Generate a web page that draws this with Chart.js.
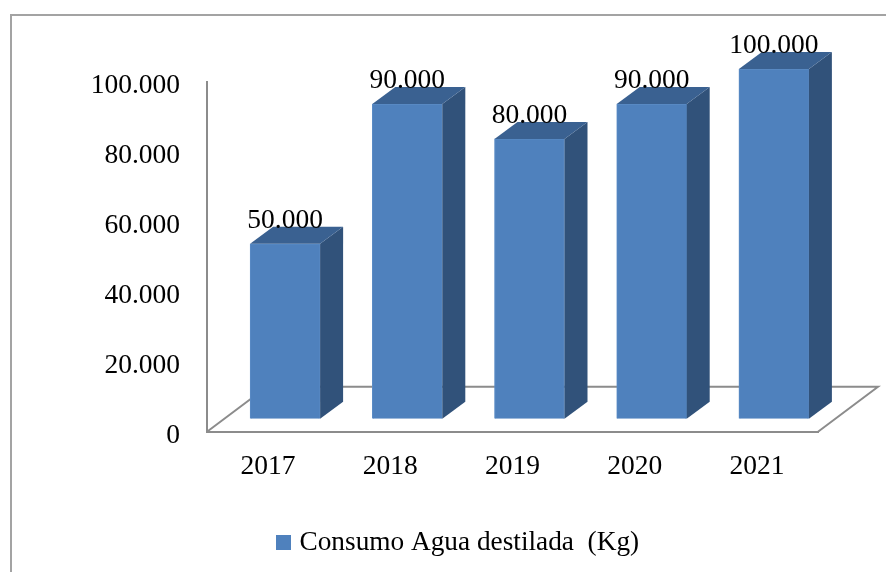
<!DOCTYPE html>
<html>
<head>
<meta charset="utf-8">
<style>
  html, body { margin: 0; padding: 0; background: #fff; }
  #wrap { width: 886px; height: 572px; }
</style>
<script src="https://cdn.jsdelivr.net/npm/chart.js@4"></script>
</head>
<body>
<div id="wrap"><canvas id="myChart" width="886" height="572"></canvas></div>
<script>
const anni = ['2017', '2018', '2019', '2020', '2021'];
const consumo = [50000, 90000, 80000, 90000, 100000];
const tickValori = [0, 20000, 40000, 60000, 80000, 100000];
const nomeSerie = 'Consumo Agua destilada  (Kg)';

const FONT = '"Liberation Serif", serif';
const fmt = v => v.toLocaleString('de-DE');

// quadratino della legenda
const quadrato = document.createElement('canvas');
quadrato.width = 15;
quadrato.height = 15;
const qc = quadrato.getContext('2d');
qc.fillStyle = '#4f81bd';
qc.fillRect(0, 0, 15, 15);

// finto 3D: il pavimento e i lati delle barre
const finto3d = {
    id: 'finto3d',
    beforeDraw(chart) {
        const c = chart.ctx;
        c.save();
        c.strokeStyle = '#a3a3a3';
        c.lineWidth = 2;
        c.beginPath();
        c.moveTo(886, 15);
        c.lineTo(11, 15);
        c.lineTo(11, 572);
        c.stroke();
        c.restore();
    },
    beforeDatasetsDraw(chart) {
        const c = chart.ctx;
        const a = chart.chartArea;
        c.save();
        c.strokeStyle = '#8c8c8c';
        c.lineWidth = 2;
        c.beginPath();
        c.moveTo(a.left, a.bottom);
        c.lineTo(a.left + 60, a.bottom - 45);
        c.lineTo(a.right + 60, a.bottom - 45);
        c.lineTo(a.right, a.bottom);
        c.stroke();
        c.restore();
        c.save();
        c.translate(17, -13);
    },
    afterDatasetsDraw(chart) {
        const c = chart.ctx;
        const dx = 23, dy = -17;
        chart.getDatasetMeta(0).data.forEach(bar => {
            const l = bar.x - bar.width / 2, r = bar.x + bar.width / 2;
            c.fillStyle = '#31527a';
            c.beginPath();
            c.moveTo(r, bar.y);
            c.lineTo(r + dx, bar.y + dy);
            c.lineTo(r + dx, bar.base + dy);
            c.lineTo(r, bar.base);
            c.closePath();
            c.fill();
            c.fillStyle = '#3a6191';
            c.beginPath();
            c.moveTo(l, bar.y);
            c.lineTo(l + dx, bar.y + dy);
            c.lineTo(r + dx, bar.y + dy);
            c.lineTo(r, bar.y);
            c.closePath();
            c.fill();
        });
        c.fillStyle = '#000';
        c.font = '27.5px ' + FONT;
        c.textAlign = 'center';
        c.textBaseline = 'middle';
        chart.getDatasetMeta(0).data.forEach((bar, i) => {
            c.fillText(fmt(consumo[i]), bar.x, bar.y - 23);
        });
        c.restore();
    }
};

new Chart(document.getElementById('myChart'), {
    type: 'bar',
    data: {
        labels: anni,
        datasets: [{
            label: nomeSerie,
            data: consumo,
            backgroundColor: '#4f81bd',
            borderColor: '#5b8cc6',
            borderWidth: 1,
            barThickness: 70
        }]
    },
    plugins: [finto3d],
    options: {
        responsive: false,
        animation: false,
        layout: { padding: { left: 60, top: 82, bottom: 6, right: 26 } },
        plugins: {
            legend: {
                position: 'bottom',
                labels: {
                    font: { family: FONT, size: 27.3 },
                    color: '#000',
                    usePointStyle: true,
                    pointStyle: quadrato,
                    pointStyleWidth: 5,
                    boxHeight: 15,
                    padding: 6
                }
            },
            tooltip: { enabled: false }
        },
        scales: {
            x: {
                grid: { display: false },
                border: { color: '#8c8c8c', width: 2 },
                ticks: { font: { family: FONT, size: 27.5 }, color: '#000', padding: 11 },
                afterFit(s) { s.height = 91; }
            },
            y: {
                min: 0,
                max: 100000,
                afterBuildTicks(s) { s.ticks = tickValori.map(v => ({ value: v })); },
                grid: { display: false },
                border: { color: '#8c8c8c', width: 2 },
                ticks: {
                    font: { family: FONT, size: 27.5 },
                    color: '#000',
                    padding: 19,
                    labelOffset: 4,
                    callback: v => fmt(v)
                },
                afterFit(s) { s.width = 147; }
            },
            // asse vuoto: lascia spazio a destra per il pavimento
            spazio: {
                position: 'right',
                grid: { display: false },
                border: { display: false },
                ticks: { display: false },
                afterFit(s) { s.width = 42; }
            }
        }
    }
});
</script>
</body>
</html>
